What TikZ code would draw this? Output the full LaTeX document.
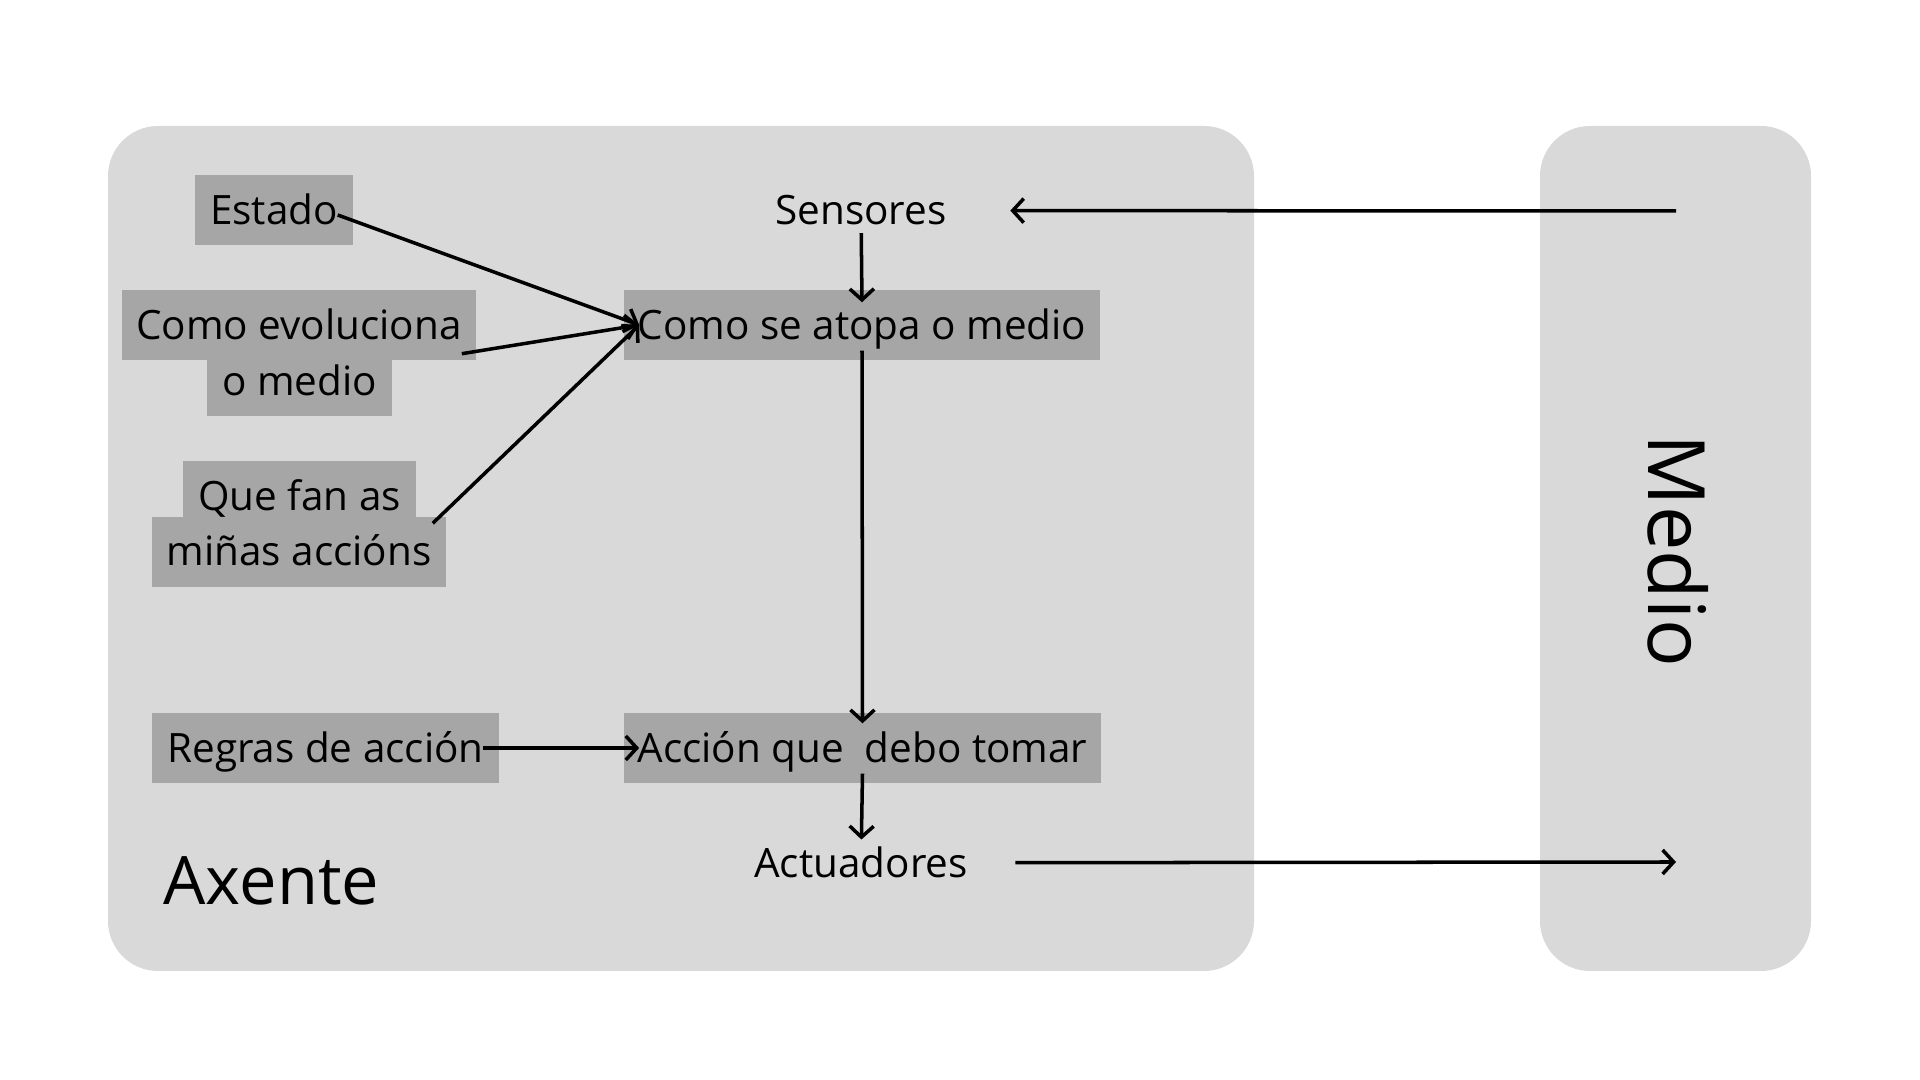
\documentclass[tikz,border=0pt]{standalone}
\usepackage{fontspec}
\setmainfont{Open Sans}
\usetikzlibrary{arrows.meta}
\definecolor{fondo}{HTML}{D9D9D9}
\definecolor{caixagris}{HTML}{A6A6A6}
\begin{document}
\begin{tikzpicture}[x=0.01cm, y=-0.01cm, font=\fontsize{11.5}{14}\selectfont, line join=round, >={Straight Barb[length=1.1mm,width=2.4mm]},
	caixa/.style={fill=caixagris, inner sep=0pt, minimum height=0.7cm, text height=11.5pt, text depth=3pt},
	etiqueta/.style={inner sep=2pt, anchor=base},
	grande/.style={font=\fontsize{19}{23}\selectfont},
	frecha/.style={->, line width=1pt}]
		\useasboundingbox (0,0) rectangle (1920,1080);
		\fill[fondo, rounded corners=0.5cm] (108,126) rectangle (1254,971);
		\fill[fondo, rounded corners=0.5cm] (1540,126) rectangle (1811,971);
		\node[caixa, minimum width=1.58cm] (estado) at (274,210) {Estado};
		\node[caixa, minimum width=3.54cm] (evol1) at (299,325) {Como evoluciona};
		\node[caixa, minimum width=1.85cm, minimum height=0.56cm, text height=7pt] (evol2) at (299.5,388) {o medio};
		\node[caixa, minimum width=2.33cm, minimum height=0.56cm, text height=13.5pt, text depth=1.5pt] (que1) at (299.5,489) {Que fan as};
		\node[caixa, minimum width=2.94cm, text height=10.4pt] (mina) at (299,552) {miñas accións};
		\node[caixa, minimum width=4.76cm] (atopa) at (862,325) {Como se atopa o medio};
		\node[caixa, minimum width=3.46cm] (regras) at (325.5,748) {Regras de acción};
		\node[caixa, minimum width=4.77cm] (accion) at (862.5,748) {Acción que~ debo tomar};
		\node[etiqueta] (sensores) at (861,225) {Sensores};
		\node[etiqueta] (actuadores) at (861,878) {Actuadores};
		\node[grande, anchor=base west, inner sep=0pt] (axente) at (163,905) {Axente};
		\node[grande, anchor=base, rotate=-90, inner sep=0pt, font=\fontsize{22.5}{27}\selectfont] (medio) at (1648,551) {Medio};
		\coordinate (entrada) at (1676,211);
		\coordinate (saida) at (1676,862);
		\draw[frecha] ([xshift=-0.16cm,yshift=-0.05cm]estado.east) -- ([xshift=0.16cm]atopa.west);
		\draw[frecha] ([xshift=-0.15cm,yshift=0.07cm]evol1.south east) -- ([xshift=0.16cm]atopa.west);
		\draw[frecha] ([xshift=-0.14cm,yshift=-0.07cm]mina.north east) -- ([xshift=0.16cm]atopa.west);
		\draw[frecha] ([xshift=-0.16cm]regras.east) -- ([xshift=0.16cm]accion.west);
		\draw[frecha] (sensores) -- ([yshift=-0.13cm]atopa.north);
		\draw[frecha] ([yshift=0.1cm]atopa.south) -- ([yshift=-0.11cm]accion.north);
		\draw[frecha] ([yshift=0.1cm]accion.south) -- (actuadores);
		\draw[frecha, shorten >=0.56cm] (entrada) -- (sensores);
		\draw[frecha, shorten <=0.40cm] (actuadores) -- (saida);
	\end{tikzpicture}
\end{document}
